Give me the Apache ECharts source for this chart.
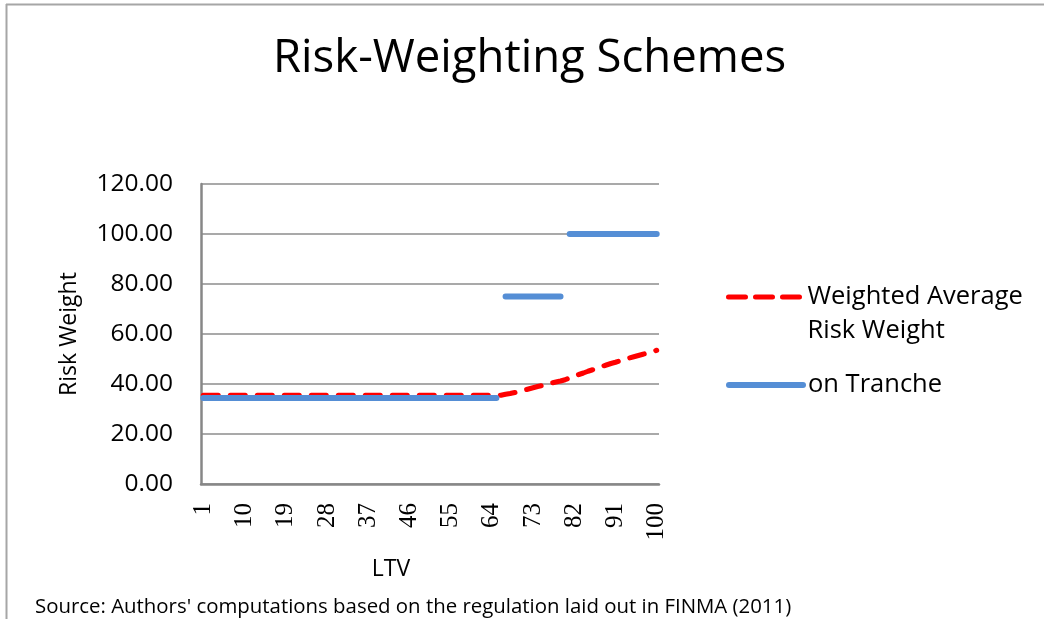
<!DOCTYPE html>
<html>
<head>
    <meta charset="utf-8">
    <title>Risk-Weighting Schemes</title>
    <script src="https://cdn.jsdelivr.net/npm/echarts@6/dist/echarts.min.js"></script>
    <style>
        html, body { margin: 0; padding: 0; background: #fff; }
    </style>
</head>
<body>
<div id="main" style="width: 1044px;height:619px;"></div>
<script type="text/javascript">
    // LTV categories 1..100
    var ltv = [1, 2, 3, 4, 5, 6, 7, 8, 9, 10, 11, 12, 13, 14, 15, 16, 17, 18, 19, 20,
        21, 22, 23, 24, 25, 26, 27, 28, 29, 30, 31, 32, 33, 34, 35, 36, 37, 38, 39, 40,
        41, 42, 43, 44, 45, 46, 47, 48, 49, 50, 51, 52, 53, 54, 55, 56, 57, 58, 59, 60,
        61, 62, 63, 64, 65, 66, 67, 68, 69, 70, 71, 72, 73, 74, 75, 76, 77, 78, 79, 80,
        81, 82, 83, 84, 85, 86, 87, 88, 89, 90, 91, 92, 93, 94, 95, 96, 97, 98, 99, 100];

    // weighted average risk weight (red dashed)
    var weightedAvg = [35.5, 35.5, 35.5, 35.5, 35.5, 35.5, 35.5, 35.5, 35.5, 35.5,
        35.5, 35.5, 35.5, 35.5, 35.5, 35.5, 35.5, 35.5, 35.5, 35.5,
        35.5, 35.5, 35.5, 35.5, 35.5, 35.5, 35.5, 35.5, 35.5, 35.5,
        35.5, 35.5, 35.5, 35.5, 35.5, 35.5, 35.5, 35.5, 35.5, 35.5,
        35.5, 35.5, 35.5, 35.5, 35.5, 35.5, 35.5, 35.5, 35.5, 35.5,
        35.5, 35.5, 35.5, 35.5, 35.5, 35.5, 35.5, 35.5, 35.5, 35.5,
        35.5, 35.5, 35.5, 35.5, 35.5, 35.5, 35.9, 36.2, 36.6, 37.0,
        37.5, 38.0, 38.5, 39.0, 39.4, 39.9, 40.4, 40.8, 41.2, 41.7,
        42.4, 43.1, 43.8, 44.4, 45.1, 45.7, 46.4, 47.0, 47.6, 48.2,
        48.7, 49.3, 49.8, 50.4, 50.9, 51.4, 51.9, 52.4, 52.9, 53.5];

    // risk weight on tranche (blue), gaps between tranches
    var onTranche = [34.4, 34.4, 34.4, 34.4, 34.4, 34.4, 34.4, 34.4, 34.4, 34.4,
        34.4, 34.4, 34.4, 34.4, 34.4, 34.4, 34.4, 34.4, 34.4, 34.4,
        34.4, 34.4, 34.4, 34.4, 34.4, 34.4, 34.4, 34.4, 34.4, 34.4,
        34.4, 34.4, 34.4, 34.4, 34.4, 34.4, 34.4, 34.4, 34.4, 34.4,
        34.4, 34.4, 34.4, 34.4, 34.4, 34.4, 34.4, 34.4, 34.4, 34.4,
        34.4, 34.4, 34.4, 34.4, 34.4, 34.4, 34.4, 34.4, 34.4, 34.4,
        34.4, 34.4, 34.4, 34.4, 34.4, null, 75, 75, 75, 75,
        75, 75, 75, 75, 75, 75, 75, 75, 75, null,
        100, 100, 100, 100, 100, 100, 100, 100, 100, 100,
        100, 100, 100, 100, 100, 100, 100, 100, 100, 100];

    var yTicks = [0, 20, 40, 60, 80, 100, 120];

    var chartDom = document.getElementById('main');
    var myChart = echarts.init(chartDom);
    var font = 'Open Sans';

    var option = {
        animation: false,
        backgroundColor: '#fff',
        title: [
            {
                text: 'Risk-Weighting Schemes',
                left: 268,
                top: 31,
                textStyle: { fontFamily: font, fontSize: 45.5, fontWeight: 'normal', color: '#000' }
            },
            {
                text: "Source: Authors' computations based on the regulation laid out in FINMA (2011)",
                left: 30,
                top: 592,
                textStyle: { fontFamily: font, fontSize: 20.4, fontWeight: 'normal', color: '#000' }
            }
        ],
        graphic: [
            { type: 'line', shape: { x1: 6, y1: 4.5, x2: 1044, y2: 4.5 }, style: { stroke: '#a6a6a6', lineWidth: 2 } },
            { type: 'line', shape: { x1: 6.5, y1: 4, x2: 6.5, y2: 619 }, style: { stroke: '#a6a6a6', lineWidth: 2 } }
        ],
        legend: [
            {
                data: ['Weighted Average\nRisk Weight'],
                formatter: '\n{name}',
                left: 721,
                top: 241,
                itemWidth: 74,
                itemHeight: 6,
                itemGap: 6,
                itemStyle: { opacity: 0 },
                lineStyle: { width: 5, type: [17, 10], cap: 'round' },
                textStyle: { fontFamily: font, fontSize: 25.5, color: '#000', lineHeight: 34 }
            },
            {
                data: ['on Tranche'],
                left: 721,
                top: 367,
                itemWidth: 74,
                itemHeight: 6,
                itemGap: 6,
                itemStyle: { opacity: 0 },
                lineStyle: { width: 6, cap: 'round' },
                textStyle: { fontFamily: font, fontSize: 25.5, color: '#000' }
            }
        ],
        grid: {
            left: 201,
            right: 385,
            top: 184,
            bottom: 135
        },
        xAxis: {
            type: 'category',
            data: ltv,
            boundaryGap: true,
            name: 'LTV',
            nameLocation: 'middle',
            nameGap: 74,
            nameTextStyle: { fontFamily: font, fontSize: 23, color: '#000', padding: [0, 78, 0, 0] },
            axisLine: { lineStyle: { color: '#878787', width: 2.5 } },
            axisTick: { show: false },
            axisLabel: {
                interval: 8,
                rotate: 90,
                margin: 19,
                fontFamily: 'Liberation Serif',
                fontSize: 25,
                color: '#000'
            }
        },
        yAxis: {
            type: 'value',
            min: yTicks[0],
            max: yTicks[yTicks.length - 1],
            interval: 20,
            name: 'Risk Weight',
            nameLocation: 'middle',
            nameGap: 120,
            nameTextStyle: { fontFamily: font, fontSize: 23, color: '#000' },
            axisLine: { show: true, lineStyle: { color: '#878787', width: 2.5 } },
            axisTick: { show: false },
            splitLine: { lineStyle: { color: '#8c8c8c', width: 1.5 } },
            axisLabel: {
                margin: 28,
                fontFamily: font,
                fontSize: 24.5,
                color: '#000',
                formatter: function (v) { return v.toFixed(2); }
            }
        },
        series: [
            {
                name: 'Weighted Average\nRisk Weight',
                type: 'line',
                data: weightedAvg,
                symbol: 'none',
                z: 2,
                lineStyle: { color: '#ff0000', width: 5, type: [15, 12], cap: 'round' },
                itemStyle: { color: '#ff0000' }
            },
            {
                name: 'on Tranche',
                type: 'line',
                data: onTranche,
                symbol: 'none',
                connectNulls: false,
                z: 3,
                lineStyle: { color: '#558ed5', width: 6, cap: 'round' },
                itemStyle: { color: '#558ed5' }
            }
        ]
    };

    if (option && typeof option === 'object') {
        myChart.setOption(option);
    }
</script>
</body>
</html>
